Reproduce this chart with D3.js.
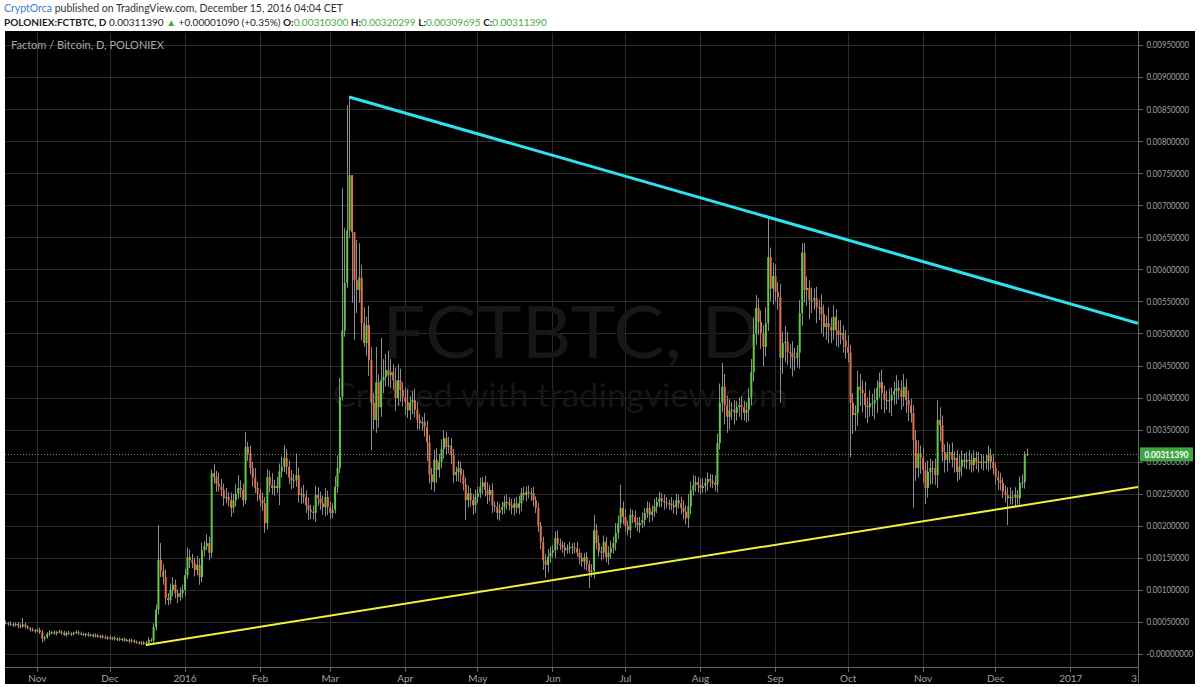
<!DOCTYPE html>
<html lang="en">
<head>
<meta charset="UTF-8">
<title>FCTBTC, D</title>
<style>
  body { margin: 0; background: #fff; }
  svg text { font-family: Lato, "Open Sans", sans-serif; }
  .grid line { stroke: #2c2c2c; stroke-width: 1px; shape-rendering: crispEdges; }
  .axis path, .axis line { stroke: #666; shape-rendering: crispEdges; }
  .axis text { fill: #a0a0a0; }
</style>
</head>
<body>
<div id="chart"></div>
<script src="https://d3js.org/d3.v7.min.js"></script>
<script>
const width = 1200, height = 687;

// daily candles, first one 2015-10-19, prices in 1e-5 BTC
const startDate = Date.UTC(2015, 9, 19);
const firstOpen = 49;
const closes = [
  48, 47, 46, 45, 47, 44, 43, 46, 43, 40,
  38, 37, 36, 37, 34, 24, 26, 31, 33, 34,
  32, 34, 35, 33, 30, 33, 32, 31, 33, 34,
  32, 31, 30, 31, 29, 30, 28, 29, 27, 28,
  26, 25, 26, 24, 25, 23, 24, 22, 23, 21,
  22, 20, 21, 19, 18, 17, 18, 16, 17, 22,
  21, 42, 69, 147, 130, 120, 87, 84, 100, 108,
  95, 89, 95, 100, 123, 151, 146, 142, 131, 139,
  120, 162, 168, 173, 158, 282, 276, 265, 261, 256,
  243, 245, 240, 228, 240, 250, 259, 256, 240, 323,
  313, 290, 275, 259, 250, 240, 235, 204, 276, 264,
  259, 262, 259, 285, 292, 306, 292, 275, 271, 271,
  279, 248, 250, 245, 232, 225, 222, 220, 248, 243,
  235, 229, 245, 229, 220, 225, 261, 290, 401, 505,
  579, 661, 747, 658,
  583, 568, 587, 516, 485, 513, 459, 392, 365, 424,
  385, 427, 432, 443, 435, 440, 427, 399, 427, 412,
  401, 393, 380, 392, 396, 381, 365, 360, 362, 354,
  330, 280, 268, 303, 287, 300, 320, 337, 323, 325,
  310, 279, 284, 290, 279, 265, 240, 251, 240, 232,
  245, 251, 261, 268, 256, 248, 256, 232, 230, 220,
  225, 229, 237, 237, 232, 228, 235, 228, 235, 251,
  248, 253, 251, 251, 240, 228, 200, 175, 146, 139,
  152, 158, 162, 181, 172, 170, 166, 162, 165, 167,
  166, 165, 158, 150, 144, 151, 140, 128, 130, 193,
  173, 160, 158, 175, 151, 158, 165, 173, 189, 204,
  228, 214, 200, 193, 217, 214, 205, 201, 204, 209,
  220, 228, 217, 222, 230, 237, 243, 239, 237, 235,
  235, 232, 229, 240, 235, 228, 222, 212, 230, 255,
  263, 268, 264, 259, 262, 267, 273, 270, 267, 264,
  329, 392, 417, 388, 370, 380, 381, 376, 385, 388,
  385, 376, 381, 400, 440, 500, 540, 518, 501, 479,
  516, 619, 570, 590, 565, 557, 462, 485, 487, 471,
  470, 463, 462, 470, 532, 626, 568, 571, 552, 552,
  555, 541, 541, 530, 510, 516, 510, 505, 526, 505,
  498, 501, 490, 479, 470, 392, 373, 376, 417, 412,
  407, 388, 385, 391, 391, 396, 415, 424, 407, 396,
  396, 396, 404, 410, 415, 412, 401,
  417, 396, 388, 376, 334, 290, 313, 306, 287, 259,
  284, 290, 290, 279, 365, 357, 315, 303, 313, 315,
  303, 306, 284, 292, 303, 300, 303, 303, 295, 306,
  300, 298, 300, 298, 300, 310, 300, 290, 276, 271,
  267, 253, 248, 243, 245, 245, 248, 243, 267, 268,
  310.3, 311.39
];
// upper / lower shadow lengths, same units
const wickHigh = [
  3, 2, 4, 3, 2, 3, 4, 10, 3, 2,
  2, 3, 2, 3, 4, 3, 2, 3, 4, 2,
  3, 2, 3, 2, 3, 2, 3, 2, 2, 3,
  2, 3, 2, 2, 3, 2, 2, 3, 2, 2,
  2, 3, 2, 2, 2, 3, 2, 2, 2, 3,
  2, 2, 3, 2, 2, 2, 2, 2, 3, 4,
  3, 6, 8, 54, 26, 10, 12, 8, 10, 12,
  8, 6, 9, 8, 10, 15, 12, 10, 8, 14,
  10, 12, 8, 14, 10, 6, 14, 10, 18, 12,
  10, 14, 8, 12, 10, 15, 20, 12, 10, 23,
  8, 12, 10, 15, 10, 8, 12, 10, 12, 10,
  18, 10, 14, 12, 16, 20, 14, 10, 12, 10,
  34, 12, 10, 14, 10, 12, 8, 10, 14, 12,
  10, 12, 14, 10, 8, 10, 16, 20, 30, 222,
  86, 195, 123, 0, 0, 63, 54, 20, 25, 13,
  30, 20, 15, 55, 12, 66, 28, 25, 30, 20,
  12, 20, 25, 18, 12, 15, 20, 10, 14, 18,
  12, 10, 8, 14, 10, 12, 10, 15, 18, 12,
  15, 12, 10, 14, 12, 10, 8, 12, 10, 8,
  10, 12, 8, 10, 12, 10, 14, 8, 10, 12,
  8, 10, 6, 8, 10, 8, 10, 12, 8, 10,
  8, 10, 12, 8, 10, 8, 10, 8, 10, 6,
  8, 6, 8, 10, 12, 10, 8, 10, 12, 8,
  6, 8, 6, 8, 6, 8, 10, 6, 8, 6,
  8, 6, 10, 24, 10, 12, 8, 10, 8, 10,
  12, 10, 15, 12, 36, 10, 12, 8, 10, 8,
  10, 8, 10, 12, 8, 10, 8, 10, 12, 8,
  10, 8, 10, 8, 6, 10, 8, 10, 8, 10,
  12, 10, 20, 14, 16, 10, 8, 10, 12, 8,
  10, 8, 10, 12, 15, 30, 37, 20, 15, 18,
  12, 15, 10, 12, 14, 10, 12, 15, 20, 25,
  20, 15, 18, 12, 25, 61, 15, 20, 18, 15,
  20, 18, 25, 15, 12, 18, 15, 12, 20, 15,
  15, 18, 12, 20, 15, 18, 12, 20, 15, 12,
  25, 15, 18, 12, 15, 20, 12, 15, 18, 12,
  15, 12, 25, 20, 15, 18, 12, 20, 15, 18,
  12, 15, 20, 12, 15, 18, 12, 15, 20, 12,
  15, 20, 12, 15, 10, 12, 15, 20, 12, 15,
  12, 18, 15, 12, 15, 31, 20, 15, 12, 18,
  12, 15, 10, 12, 18, 15, 10, 12, 15, 10,
  12, 10, 15, 12, 10, 12, 15, 10, 12, 8,
  10, 12, 8, 10, 12, 15, 10, 12, 8, 10,
  12, 6, 9
];
const wickLow = [
  2, 3, 2, 3, 2, 4, 3, 2, 3, 2,
  3, 2, 3, 2, 3, 6, 4, 2, 3, 2,
  2, 3, 2, 3, 2, 3, 2, 3, 2, 2,
  3, 2, 2, 3, 2, 2, 3, 2, 2, 3,
  2, 2, 3, 2, 2, 2, 3, 2, 2, 2,
  2, 3, 2, 2, 2, 2, 3, 2, 2, 3,
  2, 4, 5, 8, 10, 12, 10, 8, 6, 10,
  8, 10, 6, 8, 10, 6, 12, 8, 10, 8,
  12, 8, 10, 6, 12, 8, 10, 12, 8, 10,
  12, 8, 10, 14, 8, 10, 8, 12, 10, 6,
  12, 10, 14, 8, 12, 10, 12, 15, 10, 12,
  10, 12, 8, 27, 10, 8, 12, 10, 14, 12,
  10, 12, 14, 10, 12, 16, 12, 10, 14, 12,
  10, 12, 14, 12, 10, 8, 6, 10, 8, 6,
  10, 8, 12, 110, 93, 36, 20, 26, 6, 20,
  25, 74, 15, 20, 32, 15, 20, 15, 18, 20,
  15, 20, 12, 18, 15, 20, 12, 15, 18, 12,
  15, 10, 12, 15, 29, 14, 12, 15, 20, 12,
  10, 15, 12, 10, 14, 12, 10, 15, 12, 10,
  31, 12, 10, 15, 12, 10, 8, 12, 10, 14,
  10, 12, 8, 10, 12, 8, 10, 12, 8, 10,
  12, 8, 10, 12, 8, 10, 8, 12, 10, 8,
  10, 12, 15, 20, 12, 10, 8, 12, 10, 8,
  8, 10, 6, 8, 10, 8, 6, 10, 8, 12,
  10, 25, 8, 12, 10, 8, 12, 10, 8, 12,
  10, 8, 12, 10, 8, 12, 10, 8, 12, 10,
  8, 10, 12, 8, 10, 8, 12, 10, 8, 10,
  8, 10, 12, 8, 10, 8, 10, 12, 8, 10,
  12, 10, 15, 12, 8, 10, 12, 10, 8, 10,
  12, 10, 8, 10, 12, 10, 15, 30, 25, 20,
  15, 18, 12, 15, 20, 12, 15, 18, 12, 15,
  18, 20, 25, 30, 15, 12, 20, 25, 15, 20,
  70, 25, 30, 20, 25, 30, 20, 15, 25, 20,
  20, 25, 30, 20, 15, 25, 20, 30, 15, 20,
  25, 20, 15, 25, 20, 15, 20, 18, 15, 85,
  30, 25, 20, 25, 30, 20, 25, 15, 20, 25,
  20, 15, 25, 20, 15, 20, 25, 15, 20, 15,
  20, 15, 20, 25, 15, 106, 20, 15, 25, 20,
  25, 15, 20, 25, 15, 20, 25, 15, 20, 18,
  15, 12, 20, 15, 12, 15, 10, 12, 15, 12,
  10, 12, 15, 10, 12, 10, 15, 12, 10, 12,
  15, 12, 10, 12, 42, 10, 12, 15, 10, 12,
  8, 10, 1
];

const yTicks = [0, 0.0005, 0.001, 0.0015, 0.002, 0.0025, 0.003, 0.0035, 0.004, 0.0045,
                0.005, 0.0055, 0.006, 0.0065, 0.007, 0.0075, 0.008, 0.0085, 0.009, 0.0095];
const yLabels = ["-0.00000000", "0.00050000", "0.00100000", "0.00150000", "0.00200000",
                 "0.00250000", "0.00300000", "0.00350000", "0.00400000", "0.00450000",
                 "0.00500000", "0.00550000", "0.00600000", "0.00650000", "0.00700000",
                 "0.00750000", "0.00800000", "0.00850000", "0.00900000", "0.00950000"];
const xTickDates = ["2015-11-01", "2015-12-01", "2016-01-01", "2016-02-01", "2016-03-01",
                    "2016-04-01", "2016-05-01", "2016-06-01", "2016-07-01", "2016-08-01",
                    "2016-09-01", "2016-10-01", "2016-11-01", "2016-12-01", "2017-01-01"];
const xTickLabels = ["Nov", "Dec", "2016", "Feb", "Mar", "Apr", "May", "Jun", "Jul",
                     "Aug", "Sep", "Oct", "Nov", "Dec", "2017"];

const lastPrice = 0.0031139;
const resistance = [["2016-03-09", 0.00869], ["2017-01-29", 0.00516]];
const support = [["2015-12-16", 0.00014], ["2017-01-29", 0.002605]];

const day = 864e5;
const candles = closes.map((c, i) => {
  const o = i === 0 ? firstOpen : closes[i - 1];
  return {
    date: new Date(startDate + i * day),
    o: o * 1e-5, c: c * 1e-5,
    h: (Math.max(o, c) + wickHigh[i]) * 1e-5,
    l: (Math.min(o, c) - wickLow[i]) * 1e-5
  };
});

const plot = { left: 5, right: 1138, top: 33, bottom: 667 };

const x = d3.scaleUtc()
  .domain([new Date(startDate - 0.2 * day), new Date(startDate + 468 * day)])
  .range([plot.left, plot.right]);
const y = d3.scaleLinear()
  .domain([-0.000203, 0.009688])
  .range([plot.bottom, plot.top]);

const svg = d3.select("#chart").append("svg")
  .attr("width", width)
  .attr("height", height);

svg.append("rect").attr("width", width).attr("height", height).attr("fill", "#fff");

// header
const h1 = svg.append("text").attr("x", 4).attr("y", 12).attr("font-size", 10.5);
h1.append("tspan").attr("fill", "#3d7dd0").text("CryptOrca");
h1.append("tspan").attr("fill", "#333").text(" published on TradingView.com, December 15, 2016 04:04 CET");

const h2 = svg.append("text").attr("x", 4).attr("y", 26).attr("font-size", 10).attr("fill", "#222");
const green = "#3fae3f";
[["POLONIEX:FCTBTC, D", "#222", true], [" 0.00311390 ", "#222", false], ["▲", green, false],
 [" +0.00001090 (+0.35%) ", "#222", false], ["O:", "#222", true], ["0.00310300 ", green, false],
 ["H:", "#222", true], ["0.00320299 ", green, false], ["L:", "#222", true], ["0.00309695 ", green, false],
 ["C:", "#222", true], ["0.00311390", green, false]]
  .forEach(([t, col, b]) => {
    h2.append("tspan").attr("fill", col).attr("font-weight", b ? "bold" : "normal").text(t);
  });

// chart background
svg.append("rect")
  .attr("x", 5).attr("y", 31).attr("width", 1190).attr("height", 653)
  .attr("fill", "#000");

// grid
const grid = svg.append("g").attr("class", "grid");
grid.selectAll("line.h").data(yTicks).enter().append("line")
  .attr("class", "h")
  .attr("x1", plot.left).attr("x2", plot.right)
  .attr("y1", d => Math.round(y(d)) + 0.5).attr("y2", d => Math.round(y(d)) + 0.5);
grid.selectAll("line.v").data(xTickDates).enter().append("line")
  .attr("class", "v")
  .attr("y1", plot.top).attr("y2", plot.bottom)
  .attr("x1", d => Math.round(x(new Date(d))) + 0.5).attr("x2", d => Math.round(x(new Date(d))) + 0.5);

// watermark
svg.append("text")
  .attr("x", 571).attr("y", 358).attr("text-anchor", "middle")
  .attr("font-size", 72).attr("fill", "#171717")
  .attr("textLength", 378).attr("lengthAdjust", "spacingAndGlyphs")
  .text("FCTBTC, D");
svg.append("text")
  .attr("x", 560).attr("y", 407).attr("text-anchor", "middle")
  .attr("font-size", 32).attr("fill", "#161616")
  .attr("textLength", 455).attr("lengthAdjust", "spacingAndGlyphs")
  .text("Created with tradingview.com");

svg.append("text")
  .attr("x", 11).attr("y", 49).attr("font-size", 11).attr("fill", "#a8a8a8")
  .text("Factom / Bitcoin, D, POLONIEX");

svg.append("defs").append("clipPath").attr("id", "clip")
  .append("rect")
  .attr("x", plot.left).attr("y", plot.top)
  .attr("width", plot.right - plot.left).attr("height", plot.bottom - plot.top);

const body = svg.append("g").attr("clip-path", "url(#clip)");

// last price dotted line
body.append("line")
  .attr("x1", plot.left).attr("x2", plot.right)
  .attr("y1", Math.round(y(lastPrice)) + 0.5).attr("y2", Math.round(y(lastPrice)) + 0.5)
  .attr("stroke", "#46b146").attr("stroke-dasharray", "1,2");

// candles
const up = "#62c848", down = "#e5714f";
const g = body.selectAll("g.candle").data(candles).enter().append("g").attr("class", "candle");
g.append("line")
  .attr("x1", d => Math.round(x(d.date)) + 0.5).attr("x2", d => Math.round(x(d.date)) + 0.5)
  .attr("y1", d => y(d.h)).attr("y2", d => y(d.l))
  .attr("stroke", "#8c8c8c").attr("stroke-width", 1);
g.append("rect")
  .attr("x", d => x(d.date) - 0.5)
  .attr("width", 2)
  .attr("y", d => y(Math.max(d.o, d.c)))
  .attr("height", d => Math.max(1, Math.abs(y(d.o) - y(d.c))))
  .attr("fill", d => d.c >= d.o ? up : down);

// trend lines
const line = d3.line().x(d => x(new Date(d[0]))).y(d => y(d[1]));
body.append("path").datum(resistance)
  .attr("d", line).attr("fill", "none")
  .attr("stroke", "#2fe0ee").attr("stroke-width", 3);
body.append("path").datum(support)
  .attr("d", line).attr("fill", "none")
  .attr("stroke", "#f2f23a").attr("stroke-width", 2);

// y axis (the 0.003 label sits under the last-price tag, as in TradingView)
const yAxis = svg.append("g").attr("class", "axis")
  .attr("transform", `translate(${plot.right + 0.5},0)`)
  .call(d3.axisRight(y).tickValues(yTicks).tickSize(4).tickSizeOuter(0)
    .tickFormat((d, i) => yLabels[i]));
yAxis.select(".domain").attr("d", `M0,31V${plot.bottom + 16}`);
yAxis.selectAll("text")
  .attr("font-size", 9)
  .attr("x", 8)
  .attr("textLength", (d, i) => yLabels[i].length * 4.25)
  .attr("lengthAdjust", "spacingAndGlyphs");

// last price label
svg.append("rect")
  .attr("x", plot.right + 2).attr("y", y(lastPrice) - 7)
  .attr("width", 53).attr("height", 14)
  .attr("fill", "#3da640");
svg.append("text")
  .attr("x", plot.right + 28.5).attr("y", y(lastPrice) + 3.5)
  .attr("text-anchor", "middle").attr("font-size", 9).attr("font-weight", "bold")
  .attr("fill", "#fff")
  .attr("textLength", 44).attr("lengthAdjust", "spacingAndGlyphs")
  .text("0.00311390");

// x axis
const xAxis = svg.append("g").attr("class", "axis")
  .attr("transform", `translate(0,${plot.bottom + 0.5})`)
  .call(d3.axisBottom(x).tickValues(xTickDates.map(d => new Date(d))).tickSize(4).tickSizeOuter(0)
    .tickFormat((d, i) => xTickLabels[i]));
xAxis.select(".domain").attr("d", `M${plot.left},0H${plot.right}`);
xAxis.selectAll("text").attr("font-size", 10).attr("y", 7);
xAxis.append("text")
  .attr("x", plot.right - 1).attr("y", 7).attr("dy", "0.71em")
  .attr("text-anchor", "end").attr("font-size", 10).attr("fill", "#a0a0a0")
  .text("3");
</script>
</body>
</html>
